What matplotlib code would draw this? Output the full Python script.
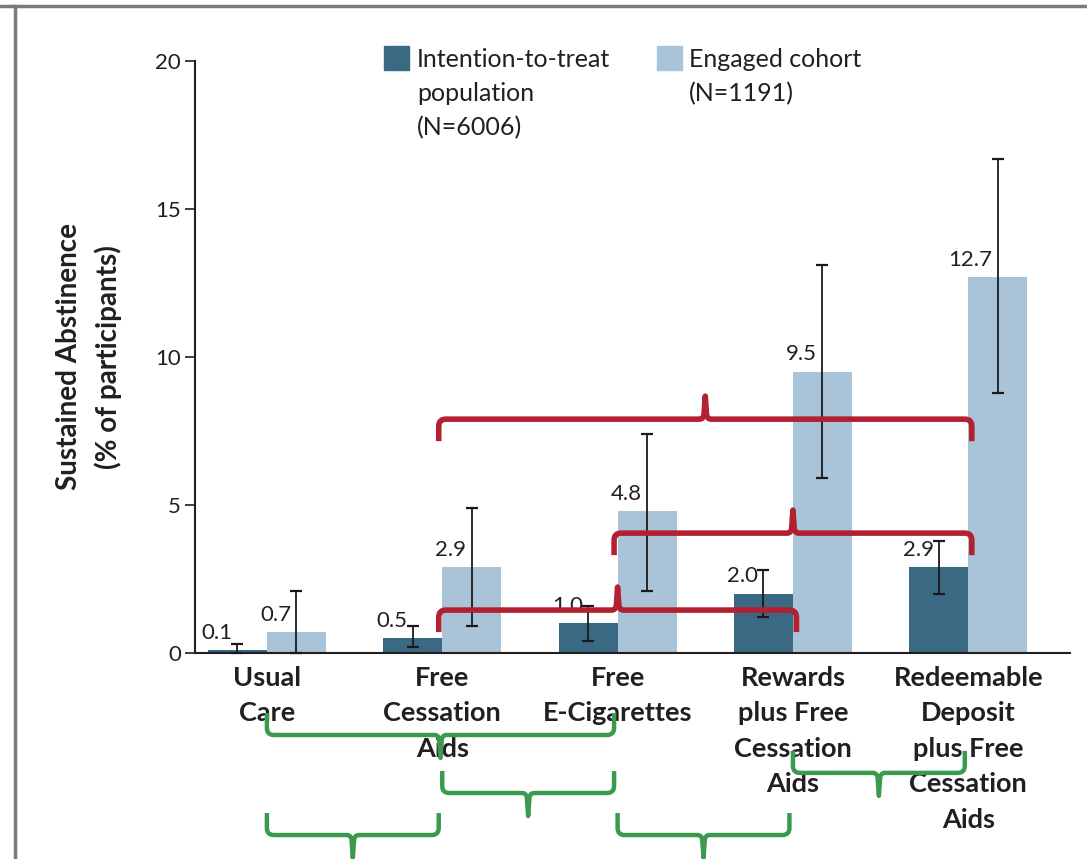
import matplotlib
matplotlib.use("Agg")
import matplotlib.pyplot as plt
import numpy as np
from matplotlib.path import Path
from matplotlib.patches import PathPatch, Rectangle
from matplotlib.lines import Line2D

# ---------------- data ----------------
categories = ["Usual\nCare", "Free\nCessation\nAids", "Free\nE-Cigarettes",
              "Rewards\nplus Free\nCessation\nAids",
              "Redeemable\nDeposit\nplus Free\nCessation\nAids"]
itt_values = [0.1, 0.5, 1.0, 2.0, 2.9]
itt_low = [0.0, 0.2, 0.4, 1.2, 2.0]
itt_high = [0.3, 0.9, 1.6, 2.8, 3.8]
eng_values = [0.7, 2.9, 4.8, 9.5, 12.7]
eng_low = [0.0, 0.9, 2.1, 5.9, 8.8]
eng_high = [2.1, 4.9, 7.4, 13.1, 16.7]
legend_labels = ["Intention-to-treat\npopulation\n(N=6006)", "Engaged cohort\n(N=1191)"]
y_ticks = [0, 5, 10, 15, 20]
y_label = "Sustained Abstinence\n(% of participants)"

# comparisons (group index pairs) – red: engaged cohort, green: ITT
red_pairs = [(1, 4), (2, 4), (1, 3)]
green_pairs = [(0, 2), (1, 2), (0, 1), (2, 3), (3, 4)]
# layout levels for the braces (in y-axis units)
red_levels = [7.9, 4.05, 1.45]
green_levels = [-2.77, -4.73, -6.15, -6.15, -4.05]

# ---------------- style ----------------
DARK = "#396983"
LIGHT = "#a9c4d8"
RED = "#b3202f"
GREEN = "#3a9a4e"
TXT = "#231f20"
FONT = "Lato"

W, H = 1087, 859
fig = plt.figure(figsize=(W / 100, H / 100), dpi=100)
plt.rcParams["font.family"] = [FONT, "DejaVu Sans"]

ax_l, ax_r, ax_t, ax_b = 195, 1070, 61, 653
ax = fig.add_axes([ax_l / W, 1 - ax_b / H, (ax_r - ax_l) / W, (ax_b - ax_t) / H])
xmin, xmax = -0.41, 4.58
ax.set_xlim(xmin, xmax)
ax.set_ylim(0, 20)

x = np.arange(len(categories))
bw = 0.336
ax.bar(x - bw / 2, itt_values, bw, color=DARK, zorder=2)
ax.bar(x + bw / 2, eng_values, bw, color=LIGHT, zorder=2)

iv = np.array(itt_values); ev = np.array(eng_values)
ax.errorbar(x - bw / 2, iv, yerr=[iv - np.array(itt_low), np.array(itt_high) - iv],
            fmt="none", ecolor="#1a1a1a", elinewidth=1.3, capsize=4.5, capthick=1.6,
            zorder=3, clip_on=False)
ax.errorbar(x + bw / 2, ev, yerr=[ev - np.array(eng_low), np.array(eng_high) - ev],
            fmt="none", ecolor="#1a1a1a", elinewidth=1.3, capsize=4.5, capthick=1.6,
            zorder=3, clip_on=False)

for xi, v in zip(x - bw / 2, itt_values):
    ax.text(xi - 0.03, v + 0.25, f"{v:.1f}", ha="right", va="bottom",
            fontsize=16, color=TXT, zorder=4)
for xi, v in zip(x + bw / 2, eng_values):
    ax.text(xi - 0.03, v + 0.25, f"{v:.1f}", ha="right", va="bottom",
            fontsize=16, color=TXT, zorder=4)

# axes styling
for s in ["top", "right"]:
    ax.spines[s].set_visible(False)
ax.spines["left"].set_linewidth(1.5)
ax.spines["bottom"].set_linewidth(1.5)
ax.spines["left"].set_color(TXT)
ax.spines["bottom"].set_color(TXT)
ax.set_yticks(y_ticks)
ax.set_yticklabels([str(t) for t in y_ticks], fontsize=16, color=TXT)
ax.tick_params(axis="y", length=7, width=1.2, pad=3, color=TXT)
ax.set_xticks(x)
ax.set_xticklabels(categories, fontsize=19.5, fontweight="bold", color=TXT,
                   linespacing=1.58, va="top")
ax.tick_params(axis="x", length=0, pad=9)
ax.set_ylabel(y_label, fontsize=20, fontweight="bold", color=TXT,
              linespacing=1.55, labelpad=24)

# ---------------- braces ----------------
px_x = (ax_r - ax_l) / (xmax - xmin)
px_y = (ax_b - ax_t) / 20.0


def brace(xa, xb, y, d, color, lw):
    # d=+1: tip up, ends down ; d=-1: tip down, ends up
    he, ht, r, s = 22, 23, 7, 6
    X = lambda p: p / px_x
    Y = lambda p: p / px_y
    xm = (xa + xb) / 2
    verts = [
        (xa, y - d * Y(he)),
        (xa, y - d * Y(r)),
        (xa, y), (xa + X(r), y),
        (xm - X(s), y),
        (xm - X(1.2), y), (xm - X(1.2), y + d * Y(s)),
        (xm, y + d * Y(ht)),
        (xm + X(1.2), y + d * Y(s)),
        (xm + X(1.2), y), (xm + X(s), y),
        (xb - X(r), y),
        (xb, y), (xb, y - d * Y(r)),
        (xb, y - d * Y(he)),
    ]
    codes = [Path.MOVETO, Path.LINETO, Path.CURVE3, Path.CURVE3, Path.LINETO,
             Path.CURVE3, Path.CURVE3, Path.LINETO, Path.LINETO, Path.CURVE3,
             Path.CURVE3, Path.LINETO, Path.CURVE3, Path.CURVE3, Path.LINETO]
    p = PathPatch(Path(verts, codes), fill=False, edgecolor=color, lw=lw,
                  capstyle="butt", joinstyle="round", zorder=6, clip_on=False)
    ax.add_patch(p)


for (a, b), lvl in zip(red_pairs, red_levels):
    brace(x[a] - 0.02, x[b] + 0.02, lvl, +1, RED, 4.0)
for (a, b), lvl in zip(green_pairs, green_levels):
    brace(x[a], x[b] - 0.02, lvl, -1, GREEN, 3.2)

# ---------------- legend (manual) ----------------
def fx(p):
    return p / W


def fy(p):
    return 1 - p / H


fig.add_artist(Rectangle((fx(384), fy(70)), fx(25), 24 / H, color=DARK, transform=fig.transFigure))
fig.add_artist(Rectangle((fx(657), fy(70)), fx(25), 24 / H, color=LIGHT, transform=fig.transFigure))
fig.text(fx(417), fy(48), legend_labels[0], fontsize=18, color=TXT, va="top", ha="left",
         linespacing=1.58)
fig.text(fx(689), fy(48), legend_labels[1], fontsize=18, color=TXT, va="top", ha="left",
         linespacing=1.58)

# ---------------- frame ----------------
fig.add_artist(Line2D([0, 1], [fy(6), fy(6)], color="#7a7a7a", lw=2.5, transform=fig.transFigure))
fig.add_artist(Line2D([fx(15), fx(15)], [0, fy(6)], color="#7a7a7a", lw=2.5, transform=fig.transFigure))

fig.savefig("out.png", dpi=100)
